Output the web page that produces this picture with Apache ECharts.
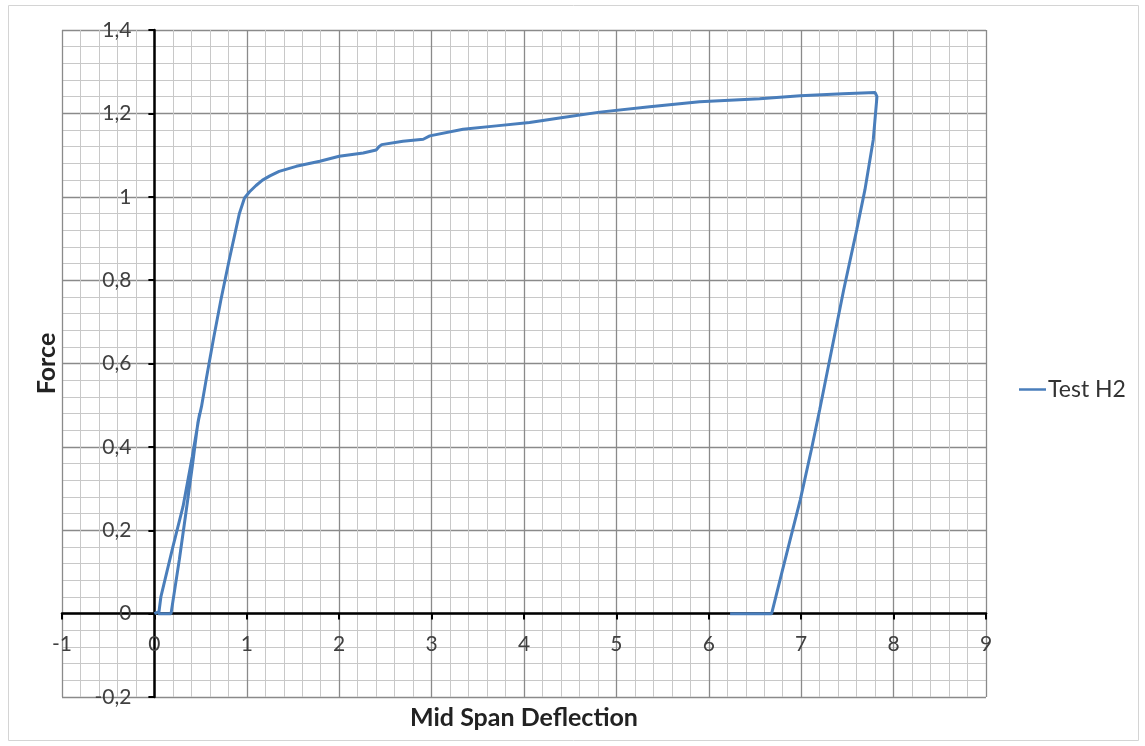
<!DOCTYPE html>
<html>
<head>
<meta charset="utf-8">
<script src="https://cdn.jsdelivr.net/npm/echarts@6/dist/echarts.min.js"></script>
<style>
  html, body { margin: 0; padding: 0; background: #fff; }
  #chart { width: 1145px; height: 746px; }
</style>
</head>
<body>
<div id="chart"></div>
<script>
// Test H2: mid span deflection vs force
var deflection = [0, 0.05, 0.07, 0.2, 0.31, 0.41, 0.49, 0.47, 0.41, 0.34, 0.27, 0.18, 0.04, 0.18,
    0.27, 0.34, 0.41, 0.47, 0.51, 0.56, 0.64, 0.72, 0.81, 0.92, 0.975, 1.03, 1.1, 1.17, 1.25, 1.35,
    1.535, 1.79, 2.0, 2.26, 2.4, 2.43, 2.46, 2.69, 2.91, 2.98, 3.34, 3.7, 4.06, 4.42, 4.82, 5.36,
    5.9, 6.55, 6.99, 7.45, 7.8, 7.82, 7.78, 7.69, 7.6, 7.46, 7.33, 7.2, 7.11, 6.99, 6.88, 6.79,
    6.68, 6.23]
var force = [0, 0.005, 0.04, 0.16, 0.257, 0.377, 0.48, 0.457, 0.353, 0.24, 0.13, 0, 0, 0,
    0.13, 0.24, 0.353, 0.457, 0.497, 0.561, 0.66, 0.753, 0.849, 0.96, 0.997, 1.012, 1.027, 1.04, 1.05, 1.061,
    1.073, 1.085, 1.097, 1.105, 1.112, 1.12, 1.125, 1.133, 1.138, 1.146, 1.162, 1.17, 1.178, 1.19, 1.203, 1.216,
    1.228, 1.235, 1.242, 1.247, 1.25, 1.24, 1.137, 1.017, 0.92, 0.777, 0.633, 0.489, 0.393, 0.273, 0.177, 0.098,
    0, 0]

var points = deflection.map(function (d, i) { return [d, force[i]] })

var fmt = function (v) {
    return String(Math.round(v * 10) / 10).replace('.', ',')
}

var Chart = echarts.init(document.getElementById('chart'))
var option = {
    animation: false,
    grid: {
        left: 62,
        right: 159,
        top: 30,
        bottom: 49,
        outerBoundsMode: 'none'
    },
    legend: {
        data: ['Test H2'],
        left: 1014,
        top: 373,
        icon: 'rect',
        itemWidth: 27,
        itemHeight: 2.5,
        itemGap: 2,
        textStyle: {
            fontFamily: 'Lato',
            fontSize: 23,
            color: '#333',
            padding: [0, 0, 0, -3]
        }
    },
    xAxis: {
        type: 'value',
        min: -1,
        max: 9,
        interval: 1,
        offset: -83.4,
        name: 'Mid Span Deflection',
        nameLocation: 'middle',
        nameGap: 92,
        nameTextStyle: { fontFamily: 'Lato', fontWeight: 'bold', fontSize: 25, color: '#222' },
        axisLine: { onZero: false, lineStyle: { color: '#000', width: 2.5 } },
        axisTick: { show: true, length: 6, lineStyle: { color: '#000', width: 2 } },
        axisLabel: { formatter: fmt, fontFamily: 'Lato', fontSize: 21, color: '#404040', margin: 20 },
        splitLine: { show: true, lineStyle: { color: '#8a8a8a', width: 1.3 } },
        minorTick: { show: false, splitNumber: 5 },
        minorSplitLine: { show: true, lineStyle: { color: '#c8c8c8', width: 1 } }
    },
    yAxis: {
        type: 'value',
        min: -0.2,
        max: 1.4,
        interval: 0.2,
        offset: -92.4,
        name: 'Force',
        nameLocation: 'middle',
        nameGap: 95,
        nameTextStyle: { fontFamily: 'Lato', fontWeight: 'bold', fontSize: 25, color: '#222' },
        axisLine: { onZero: false, lineStyle: { color: '#000', width: 2.5 } },
        axisTick: { show: true, length: 6, lineStyle: { color: '#000', width: 2 } },
        axisLabel: { formatter: fmt, fontFamily: 'Lato', fontSize: 21, color: '#404040', margin: 23 },
        splitLine: { show: true, lineStyle: { color: '#8a8a8a', width: 1.3 } },
        minorTick: { show: false, splitNumber: 5 },
        minorSplitLine: { show: true, lineStyle: { color: '#c8c8c8', width: 1 } }
    },
    graphic: [{
        type: 'rect',
        shape: { x: 8.5, y: 5.5, width: 1130, height: 735 },
        style: { fill: 'none', stroke: '#d4d4d4', lineWidth: 1 },
        silent: true
    }],
    series: [
        {
            name: 'Test H2',
            type: 'line',
            data: points,
            showSymbol: false,
            smooth: false,
            lineStyle: { color: '#4a7ebb', width: 3 },
            itemStyle: { color: '#4a7ebb' }
        }
    ]
}
Chart.setOption(option)
</script>
</body>
</html>
